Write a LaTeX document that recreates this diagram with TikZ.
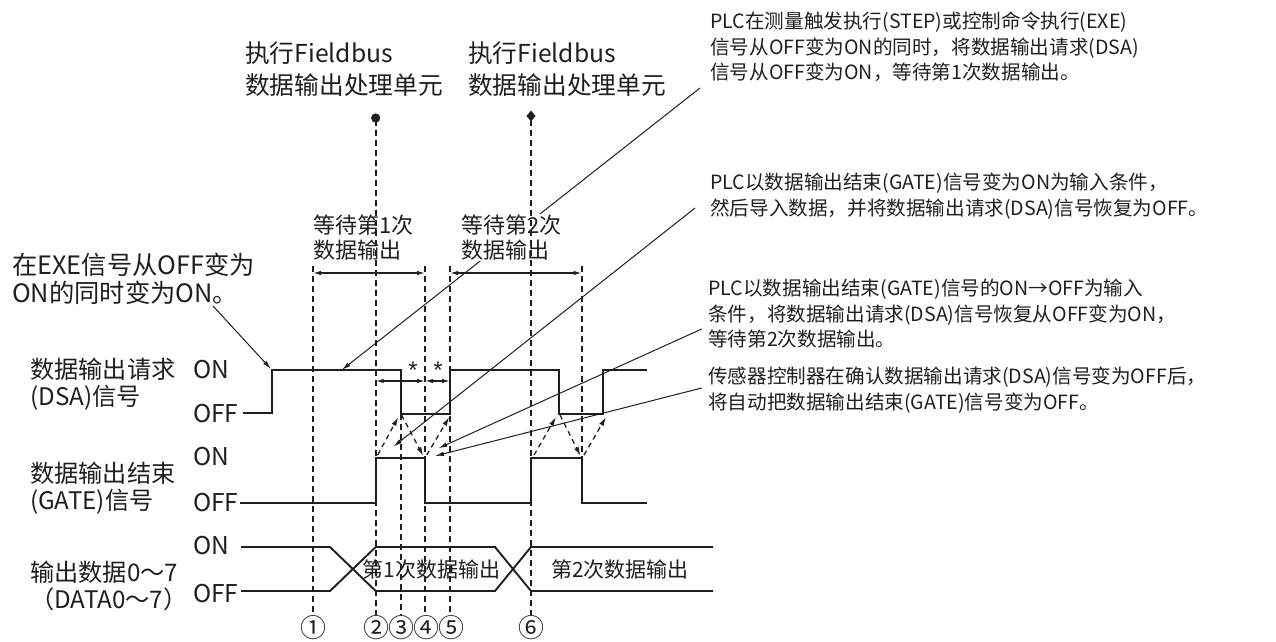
\documentclass[tikz,border=0pt]{standalone}
\usepackage{fontspec}
\setmainfont{Noto Sans CJK SC}
\newfontfamily\latf{Liberation Sans}
\usetikzlibrary{arrows.meta,shapes.geometric}
\pgfdeclarelayer{bg}
\pgfsetlayers{bg,main}
\begin{document}
\begin{tikzpicture}[x=1pt,y=-1pt,
  sig/.style={line width=2.2pt,line join=miter,draw=black!88},
  bus/.style={line width=1.9pt,draw=black!88},
  guide/.style={line width=1.6pt,dash pattern=on 6pt off 4pt,draw=black!88},
  lead/.style={line width=1pt,draw=black!88,-{Latex[length=9pt,width=4.5pt]}},
  cause/.style={line width=1.3pt,dash pattern=on 5pt off 4pt,draw=black!88,-{Latex[length=9pt,width=5pt]}},
  spanarr/.style={line width=1.3pt,draw=black!88,{Latex[length=8pt,width=4.5pt]}-{Latex[length=8pt,width=4.5pt]}},
  txt/.style={inner sep=0pt,align=left,anchor=west,text=black!88},
  bigtxt/.style={txt,font=\fontsize{24.7}{31.5}\selectfont},
  lbltxt/.style={txt,font=\fontsize{24.2}{27}\selectfont},
  onoff/.style={txt,font=\fontsize{24.5}{27}\selectfont},
  notetxt/.style={txt,font=\fontsize{19.6}{25.5}\selectfont},
  waittxt/.style={txt,font=\fontsize{22}{25}\selectfont,fill=white,inner sep=1pt},
  bustxt/.style={inner sep=0pt,font=\fontsize{21}{21}\selectfont,text=black!88},
  numtxt/.style={inner sep=0pt,font=\fontsize{26}{26}\selectfont,text=black!88},
  startxt/.style={inner sep=0pt,font=\latf\fontsize{24}{24}\selectfont,text=black!88}]
\useasboundingbox (0,0) rectangle (1276,641);

% ---------- text nodes ----------
\node[bigtxt] (fb1) at (245,69) {执行Fieldbus\\数据输出处理单元};
\node[bigtxt] (fb2) at (468,69) {执行Fieldbus\\数据输出处理单元};
\node[notetxt] (n1) at (710,47) {PLC在测量触发执行(STEP)或控制命令执行(EXE)\\信号从OFF变为ON的同时，将数据输出请求(DSA)\\信号从OFF变为ON，等待第1次数据输出。};
\node[notetxt] (n2) at (710,196) {PLC以数据输出结束(GATE)信号变为ON为输入条件，\\然后导入数据，并将数据输出请求(DSA)信号恢复为OFF。};
\node[notetxt] (n3) at (708,314) {PLC以数据输出结束(GATE)信号的ON→OFF为输入\\条件，将数据输出请求(DSA)信号恢复从OFF变为ON，\\等待第2次数据输出。};
\node[notetxt] (n4) at (708,390) {传感器控制器在确认数据输出请求(DSA)信号变为OFF后，\\将自动把数据输出结束(GATE)信号变为OFF。};
\node[txt,font=\fontsize{25.3}{28}\selectfont] (exe) at (12,279) {在EXE信号从OFF变为\\ON的同时变为ON。};
\node[lbltxt] (dsa) at (30,384) {数据输出请求\\(DSA)信号};
\node[lbltxt] (gate) at (30,488) {数据输出结束\\(GATE)信号};
\node[lbltxt] (data) at (30,586) {输出数据0～7\\（DATA0～7）};
\node[onoff] (dsaon) at (193,370) {ON};
\node[onoff] (dsaoff) at (193,414) {OFF};
\node[onoff] (gateon) at (193,457) {ON};
\node[onoff] (gateoff) at (193,503) {OFF};
\node[onoff] (dataon) at (193,546) {ON};
\node[onoff] (dataoff) at (193,594) {OFF};
\node[waittxt] (w1) at (312,237.5) {等待第1次\\数据输出};
\node[waittxt] (w2) at (460,237.5) {等待第2次\\数据输出};
\node[bustxt] (d1) at (431.7,569) {第1次数据输出};
\node[bustxt] (d2) at (620,569) {第2次数据输出};
\node[startxt] (st1) at (413,370) {*};
\node[startxt] (st2) at (438,370) {*};
\node[numtxt] (c1) at (313,628) {①};
\node[numtxt] (c2) at (376.5,628) {②};
\node[numtxt] (c3) at (401,628) {③};
\node[numtxt] (c4) at (426,628) {④};
\node[numtxt] (c5) at (451,628) {⑤};
\node[numtxt] (c6) at (531,628) {⑥};

% ---------- leader lines (behind text) ----------
\coordinate (e1) at (213,306);  \coordinate (t1) at (271,369);
\coordinate (e2) at (700,88);   \coordinate (t2) at (341.7,370);
\coordinate (e3) at (695,208);  \coordinate (t3) at (393.3,446.7);
\coordinate (e4) at (701.7,329);\coordinate (t4) at (438.3,448.3);
\coordinate (e5) at (701.7,388);\coordinate (t5) at (435,456);
\begin{pgfonlayer}{bg}
\draw[lead] (e1) -- (t1);
\draw[lead] (e2) -- (t2);
\draw[lead] (e3) -- (t3);
\draw[lead] (e4) -- (t4);
\draw[lead] (e5) -- (t5);
\end{pgfonlayer}

% ---------- markers ----------
\fill[black!88] (375.7,118) circle (4.6pt);
\fill[black!88] (531,110.5) -- (535.5,116) -- (531,121.5) -- (526.5,116) -- cycle;

% ---------- dashed guides ----------
\draw[guide] (313,266) -- (313,615);
\draw[guide] (375.7,120) -- (375.7,615);
\draw[guide] (400.7,414) -- (400.7,615);
\draw[guide] (425,266) -- (425,615);
\draw[guide] (450,266) -- (450,615);
\draw[guide] (531,120) -- (531,615);
\draw[guide] (581.7,266) -- (581.7,458);

% ---------- waveforms ----------
\draw[sig] (243,413) -- (272,413) -- (272,370) -- (400.7,370) -- (400.7,414) -- (450,414) -- (450,370) -- (559,370) -- (559,414) -- (603,414) -- (603,370) -- (647,370);
\draw[sig] (240,503) -- (375.7,503) -- (375.7,458) -- (425,458) -- (425,503) -- (531,503) -- (531,458) -- (581.7,458) -- (581.7,503) -- (647,503);
\draw[bus] (241,547) -- (330,547) -- (375.7,591) -- (495,591) -- (531,547) -- (713,547);
\draw[bus] (241,591) -- (330,591) -- (375.7,547) -- (495,547) -- (531,591) -- (713,591);

% ---------- spans ----------
\draw[spanarr] (313,273) -- (425,273);
\draw[spanarr] (450,273) -- (581.7,273);
\draw[spanarr] (375.7,381) -- (425,381);
\draw[spanarr] (425,381) -- (450,381);

% ---------- cause arrows ----------
\draw[cause] (377.7,455) -- (398.3,417);
\draw[cause] (401.5,415) -- (423.3,456);
\draw[cause] (426.7,455) -- (449.3,417);
\draw[cause] (534,455) -- (556,417);
\draw[cause] (560,415) -- (580.5,456);
\draw[cause] (584,455) -- (606,417);
\end{tikzpicture}
\end{document}
